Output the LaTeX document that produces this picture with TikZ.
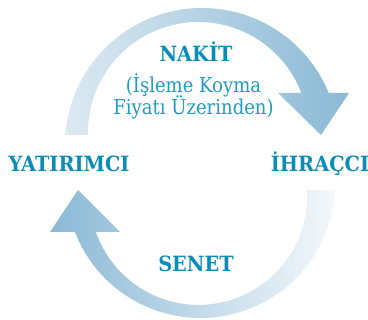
\documentclass[tikz,border=0pt]{standalone}
\usepackage{fontspec}
\newfontfamily\lblfont[FakeStretch=0.88]{DejaVu Serif}
\newfontfamily\boldlblfont[FakeStretch=0.92]{DejaVu Serif}
\definecolor{arrowdark}{HTML}{8AB9D5}
\definecolor{arrowlight}{HTML}{DCE9F2}
\definecolor{arrowpale}{HTML}{F4F8FB}
\definecolor{labelblue}{HTML}{0A8DB6}
\definecolor{subblue}{HTML}{1E9CC5}
\tikzset{
  mainlabel/.style={anchor=base, inner sep=0pt, text=labelblue, font=\boldlblfont\bfseries\fontsize{21}{24}\selectfont},
  sublabel/.style={anchor=base, inner sep=0pt, text=subblue, font=\lblfont\fontsize{20.5}{23}\selectfont},
}
\begin{document}
\begin{tikzpicture}[x=1pt,y=1pt]
\useasboundingbox (0,0) rectangle (368,320);
% top arrow (NAKIT)
\shade[left color=arrowlight, right color=arrowdark]
  ([shift={(175.81:137)}]202,175) arc[start angle=175.81, end angle=22.31, radius=137]
  -- (349,227) -- (321,185) -- (278,227)
  -- ([shift={(20.87:110.3)}]198.3,187.7) arc[start angle=20.87, end angle=181.40, radius=110.3]
  -- cycle;
% bottom arrow (SENET)
\shade[left color=arrowdark, right color=arrowpale]
  ([shift={(3.27:108.7)}]198.5,123.8) arc[start angle=3.27, end angle=-160.77, radius=108.7]
  -- (120,88) -- (78,130) -- (50,88)
  -- ([shift={(-158.83:134.6)}]200.5,136.6) arc[start angle=-158.83, end angle=-2.81, radius=134.6]
  -- cycle;
\node[mainlabel] (nakit) at (196,258) {NAKİT};
\node[sublabel] (sub1) at (193.5,227.5) {(İşleme Koyma};
\node[sublabel] (sub2) at (193.5,205) {Fiyatı Üzerinden)};
\node[mainlabel] (yatirimci) at (69,148) {YATIRIMCI};
\node[mainlabel] (ihracci) at (320,148) {İHRAÇCI};
\node[mainlabel] (senet) at (196,48) {SENET};
\end{tikzpicture}
\end{document}
